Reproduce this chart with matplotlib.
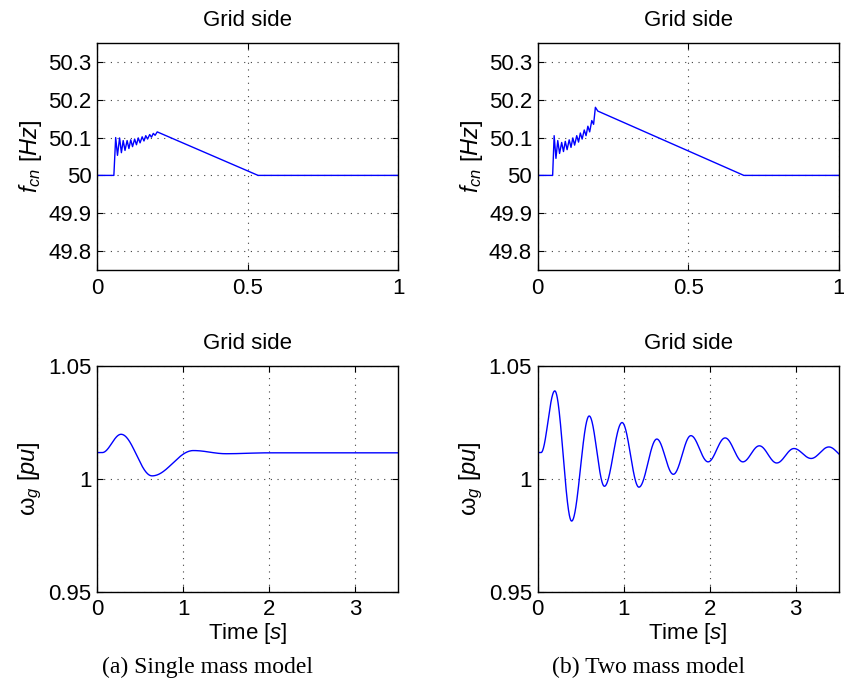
import numpy as np
import matplotlib
matplotlib.use("Agg")
import matplotlib.pyplot as plt

plt.rcParams["font.family"] = ["Liberation Sans", "DejaVu Sans"]
plt.rcParams["mathtext.fontset"] = "custom"
plt.rcParams["mathtext.rm"] = "Liberation Sans"
plt.rcParams["mathtext.it"] = "Liberation Sans:italic"

# ---------------- data ----------------
# Converter frequency f_cn [Hz], single mass model (time [s], value [Hz])
fcn_single_t = [0.0, 0.056, 0.062, 0.068, 0.075, 0.081, 0.087, 0.093, 0.100, 0.106,
                0.112, 0.118, 0.125, 0.131, 0.137, 0.143, 0.150, 0.156, 0.162,
                0.168, 0.175, 0.181, 0.187, 0.193, 0.200, 0.535, 1.0]
fcn_single_v = [50.0, 50.0, 50.100, 50.053, 50.099, 50.060, 50.092, 50.066, 50.092, 50.071,
                50.094, 50.076, 50.096, 50.081, 50.099, 50.086, 50.102, 50.091, 50.105,
                50.096, 50.108, 50.101, 50.111, 50.106, 50.115, 50.0, 50.0]

# Converter frequency f_cn [Hz], two mass model
fcn_two_t = [0.0, 0.050, 0.055, 0.061, 0.067, 0.073, 0.080, 0.086, 0.092, 0.098,
             0.105, 0.111, 0.117, 0.123, 0.130, 0.136, 0.142, 0.148, 0.155,
             0.161, 0.167, 0.173, 0.180, 0.186, 0.192, 0.200, 0.685, 1.0]
fcn_two_v = [50.0, 50.0, 50.105, 50.045, 50.092, 50.058, 50.087, 50.063, 50.090, 50.068,
             50.094, 50.074, 50.099, 50.080, 50.105, 50.088, 50.112, 50.096, 50.120,
             50.105, 50.130, 50.115, 50.145, 50.135, 50.180, 50.170, 50.0, 50.0]

# Generator speed omega_g [pu], turning points of the trace
wg_single_t = [0.0, 0.06, 0.28, 0.64, 1.12, 1.50, 2.00, 3.50]
wg_single_v = [1.0117, 1.0117, 1.0198, 1.0014, 1.0126, 1.0112, 1.0116, 1.0116]

wg_two_t = [0.0, 0.04, 0.20, 0.396, 0.60, 0.777, 0.982, 1.178, 1.386, 1.578,
            1.782, 1.982, 2.18, 2.386, 2.578, 2.78, 2.98, 3.18, 3.386, 3.58]
wg_two_v = [1.0117, 1.0117, 1.0390, 0.9814, 1.0279, 0.9968, 1.0250, 0.9964, 1.0177, 1.0021,
            1.0192, 1.0076, 1.0182, 1.0076, 1.0147, 1.0071, 1.0135, 1.0091, 1.0142, 1.0095]

# axis ticks and labels
f_yticks = [49.8, 49.9, 50.0, 50.1, 50.2, 50.3]
f_yticklabels = ["49.8", "49.9", "50", "50.1", "50.2", "50.3"]
f_xticks = [0, 0.5, 1]
f_xticklabels = ["0", "0.5", "1"]
w_yticks = [0.95, 1.0, 1.05]
w_yticklabels = ["0.95", "1", "1.05"]
w_xticks = [0, 1, 2, 3]
w_xticklabels = ["0", "1", "2", "3"]

panel_title = "Grid side"
captions = ["(a) Single mass model", "(b) Two mass model"]


def smooth_trace(tk, vk, n=80):
    """Smooth curve through turning points using half-cosine easing."""
    ts, vs = [], []
    for i in range(len(tk) - 1):
        s = np.linspace(0.0, 1.0, n, endpoint=False)
        w = 0.5 - 0.5 * np.cos(np.pi * s)
        ts.append(tk[i] + (tk[i + 1] - tk[i]) * s)
        vs.append(vk[i] + (vk[i + 1] - vk[i]) * w)
    ts.append([tk[-1]])
    vs.append([vk[-1]])
    return np.concatenate(ts), np.concatenate(vs)


FS = 16
LABEL_FS = 17
LINE = (0, 0, 1)

fig = plt.figure(figsize=(8.45, 6.93), dpi=100)
W = 0.3563
positions = {
    "tl": [0.1148, 0.6104, W, 0.3276],
    "tr": [0.6362, 0.6104, W, 0.3276],
    "bl": [0.1148, 0.1457, W, 0.3261],
    "br": [0.6362, 0.1457, W, 0.3261],
}


def style(ax, xticks, xlabels, yticks, ylabels, xpad):
    ax.set_xticks(xticks)
    ax.set_xticklabels(xlabels)
    ax.set_yticks(yticks)
    ax.set_yticklabels(ylabels)
    ax.tick_params(direction="in", length=4, width=0.8, top=True, right=True,
                   labelsize=FS, pad=4)
    ax.tick_params(axis="x", pad=xpad)
    ax.grid(True, color="0.25", linewidth=0.8, linestyle=(0, (1, 5)))
    for sp in ax.spines.values():
        sp.set_linewidth(1.0)
        sp.set_color("black")
    ax.set_title(panel_title, fontsize=FS, pad=12)


# top row: converter frequency
for key, t, v in (("tl", fcn_single_t, fcn_single_v), ("tr", fcn_two_t, fcn_two_v)):
    ax = fig.add_axes(positions[key])
    ax.plot(t, v, color=LINE, linewidth=1.0)
    ax.set_xlim(0, 1)
    ax.set_ylim(49.75, 50.35)
    style(ax, f_xticks, f_xticklabels, f_yticks, f_yticklabels, xpad=6)
    ax.set_ylabel(r"$f_{cn}$ [$Hz$]", fontsize=LABEL_FS)
    ax.yaxis.set_label_coords(-0.175, 0.5)

# bottom row: generator speed
for key, t, v in (("bl", wg_single_t, wg_single_v), ("br", wg_two_t, wg_two_v)):
    ax = fig.add_axes(positions[key])
    ts, vs = smooth_trace(t, v)
    ax.plot(ts, vs, color=LINE, linewidth=1.0)
    ax.set_xlim(0, 3.5)
    ax.set_ylim(0.95, 1.05)
    style(ax, w_xticks, w_xticklabels, w_yticks, w_yticklabels, xpad=5)
    ax.set_ylabel(r"ω$_g$ [$pu$]", fontsize=LABEL_FS)
    ax.yaxis.set_label_coords(-0.175, 0.5)
    ax.set_xlabel(r"Time [$s$]", fontsize=FS, labelpad=1)

fig.text(0.245, 0.037, captions[0], ha="center", va="center",
         fontsize=17, family="Liberation Serif")
fig.text(0.768, 0.037, captions[1], ha="center", va="center",
         fontsize=17, family="Liberation Serif")

fig.savefig("out.png", dpi=100)
